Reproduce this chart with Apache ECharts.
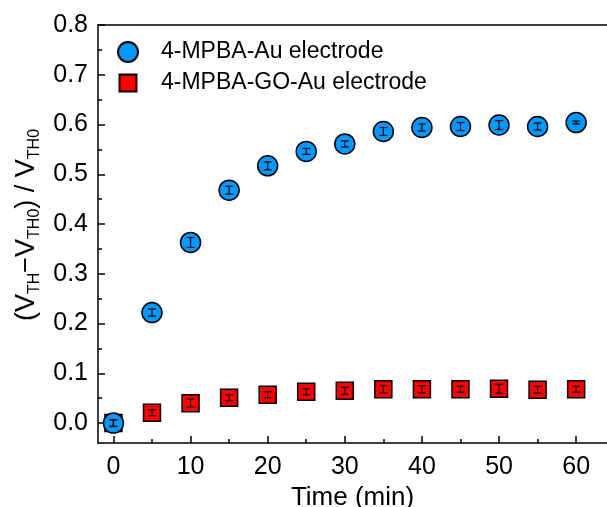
<!DOCTYPE html>
<html>
<head>
<meta charset="utf-8">
<script src="https://cdn.jsdelivr.net/npm/echarts@6/dist/echarts.min.js"></script>
<style>html,body{margin:0;padding:0;background:#fff;}#c{width:607px;height:507px;}</style>
</head>
<body>
<div id="c"></div>
<script>
// ---- data ----
const times = [0, 5, 10, 15, 20, 25, 30, 35, 40, 45, 50, 55, 60];
const auValues = [0.000, 0.222, 0.363, 0.468, 0.517, 0.546, 0.561, 0.586, 0.594, 0.596, 0.599, 0.596, 0.604];
const auErrors = [0.007, 0.007, 0.010, 0.008, 0.008, 0.006, 0.006, 0.008, 0.007, 0.008, 0.009, 0.007, 0.003];
const goValues = [0.000, 0.021, 0.040, 0.051, 0.057, 0.063, 0.065, 0.068, 0.068, 0.068, 0.069, 0.067, 0.068];
const goErrors = [0.006, 0.006, 0.008, 0.006, 0.006, 0.006, 0.007, 0.007, 0.007, 0.006, 0.009, 0.007, 0.006];
const seriesNames = ['4-MPBA-Au electrode', '4-MPBA-GO-Au electrode'];
const xMajorTicks = [0, 10, 20, 30, 40, 50, 60];
const xMinorTicks = [5, 15, 25, 35, 45, 55];
const yMajorTicks = [0, 0.1, 0.2, 0.3, 0.4, 0.5, 0.6, 0.7, 0.8];
const yMinorTicks = [0.05, 0.15, 0.25, 0.35, 0.45, 0.55, 0.65, 0.75];

const FONT = 'Liberation Sans, Arial, sans-serif';
const scatterData = (vals) => times.map((t, i) => [t, vals[i]]);
const errData = (vals, errs) => times.map((t, i) => [t, vals[i], errs[i]]);

function errRender(params, api) {
  const x = api.value(0), y = api.value(1), e = api.value(2);
  const lo = api.coord([x, y - e]);
  const hi = api.coord([x, y + e]);
  const w = 4;
  const st = {stroke: '#000', lineWidth: 1.2};
  return {
    type: 'group',
    children: [
      {type: 'line', shape: {x1: lo[0], y1: lo[1], x2: hi[0], y2: hi[1]}, style: st},
      {type: 'line', shape: {x1: lo[0] - w, y1: lo[1], x2: lo[0] + w, y2: lo[1]}, style: st},
      {type: 'line', shape: {x1: hi[0] - w, y1: hi[1], x2: hi[0] + w, y2: hi[1]}, style: st}
    ]
  };
}

const chart = echarts.init(document.getElementById('c'), null, {renderer: 'canvas'});
const axisLineStyle = {color: '#000', width: 1.5};
chart.setOption({
  backgroundColor: '#fff',
  animation: false,
  textStyle: {fontFamily: FONT},
  grid: {left: 98, top: 25, bottom: 64, right: 0, containLabel: false, outerBoundsMode: 'none'},
  legend: [
    {
      orient: 'vertical', left: 117, top: 40.5,
      itemWidth: 20, itemHeight: 20, padding: 0,
      data: [seriesNames[0]],
      textStyle: {fontSize: 23, color: '#000', fontFamily: FONT, padding: [0, 0, 0, 18]}
    },
    {
      orient: 'vertical', left: 118.5, top: 71.5,
      itemWidth: 17, itemHeight: 17, padding: 0,
      data: [seriesNames[1]],
      textStyle: {fontSize: 23, color: '#000', fontFamily: FONT, padding: [0, 0, 0, 19.5]}
    }
  ],
  xAxis: [
    {
      type: 'value', min: -2, max: 64, position: 'bottom',
      name: 'Time (min)', nameLocation: 'middle', nameGap: 34,
      nameTextStyle: {fontSize: 26, color: '#000', fontFamily: FONT},
      axisLine: {show: true, onZero: false, lineStyle: axisLineStyle},
      axisTick: {show: true, inside: true, length: 7, lineStyle: axisLineStyle, customValues: xMajorTicks},
      axisLabel: {show: true, fontSize: 25, color: '#000', margin: 12, customValues: xMajorTicks, fontFamily: FONT},
      splitLine: {show: false}
    },
    {
      type: 'value', min: -2, max: 64, position: 'bottom',
      axisLine: {show: false, onZero: false},
      axisTick: {show: true, inside: true, length: 4, lineStyle: axisLineStyle, customValues: xMinorTicks},
      axisLabel: {show: false},
      splitLine: {show: false}
    },
    {
      type: 'value', min: -2, max: 64, position: 'top',
      axisLine: {show: true, onZero: false, lineStyle: axisLineStyle},
      axisTick: {show: false},
      axisLabel: {show: false},
      splitLine: {show: false}
    }
  ],
  yAxis: [
    {
      type: 'value', min: -0.04, max: 0.8, position: 'left',
      name: '({v|V}{sub|TH}\u2212{v|V}{sub|TH0}) / {v|V}{sub|TH0}',
      nameLocation: 'middle', nameGap: 53, nameRotate: 90,
      nameTextStyle: {
        fontSize: 27, color: '#000', fontFamily: FONT, padding: [0, 0, 0, 18],
        rich: {
          v: {fontSize: 27, color: '#000', fontFamily: FONT},
          sub: {fontSize: 16, color: '#000', fontFamily: FONT, padding: [15, 0, 0, 0]}
        }
      },
      axisLine: {show: true, onZero: false, lineStyle: axisLineStyle},
      axisTick: {show: true, inside: true, length: 7, lineStyle: axisLineStyle, customValues: yMajorTicks},
      axisLabel: {
        show: true, fontSize: 25, color: '#000', margin: 10, fontFamily: FONT,
        customValues: yMajorTicks,
        formatter: (v) => v.toFixed(1)
      },
      splitLine: {show: false}
    },
    {
      type: 'value', min: -0.04, max: 0.8, position: 'left',
      axisLine: {show: false, onZero: false},
      axisTick: {show: true, inside: true, length: 4, lineStyle: axisLineStyle, customValues: yMinorTicks},
      axisLabel: {show: false},
      splitLine: {show: false}
    }
  ],
  series: [
    {
      name: seriesNames[1], type: 'scatter', xAxisIndex: 0, yAxisIndex: 0,
      symbol: 'rect', symbolSize: 17, z: 2,
      itemStyle: {color: '#FF0000', borderColor: '#000', borderWidth: 1.5, opacity: 1},
      data: scatterData(goValues)
    },
    {
      name: seriesNames[0], type: 'scatter', xAxisIndex: 0, yAxisIndex: 0,
      symbol: 'circle', symbolSize: 20, z: 3,
      itemStyle: {color: '#0099FF', borderColor: '#000', borderWidth: 1.5, opacity: 1},
      data: scatterData(auValues)
    },
    {
      type: 'custom', xAxisIndex: 0, yAxisIndex: 0, z: 4,
      renderItem: errRender, data: errData(goValues, goErrors), silent: true
    },
    {
      type: 'custom', xAxisIndex: 0, yAxisIndex: 0, z: 5,
      renderItem: errRender, data: errData(auValues, auErrors), silent: true
    }
  ]
});
</script>
</body>
</html>
